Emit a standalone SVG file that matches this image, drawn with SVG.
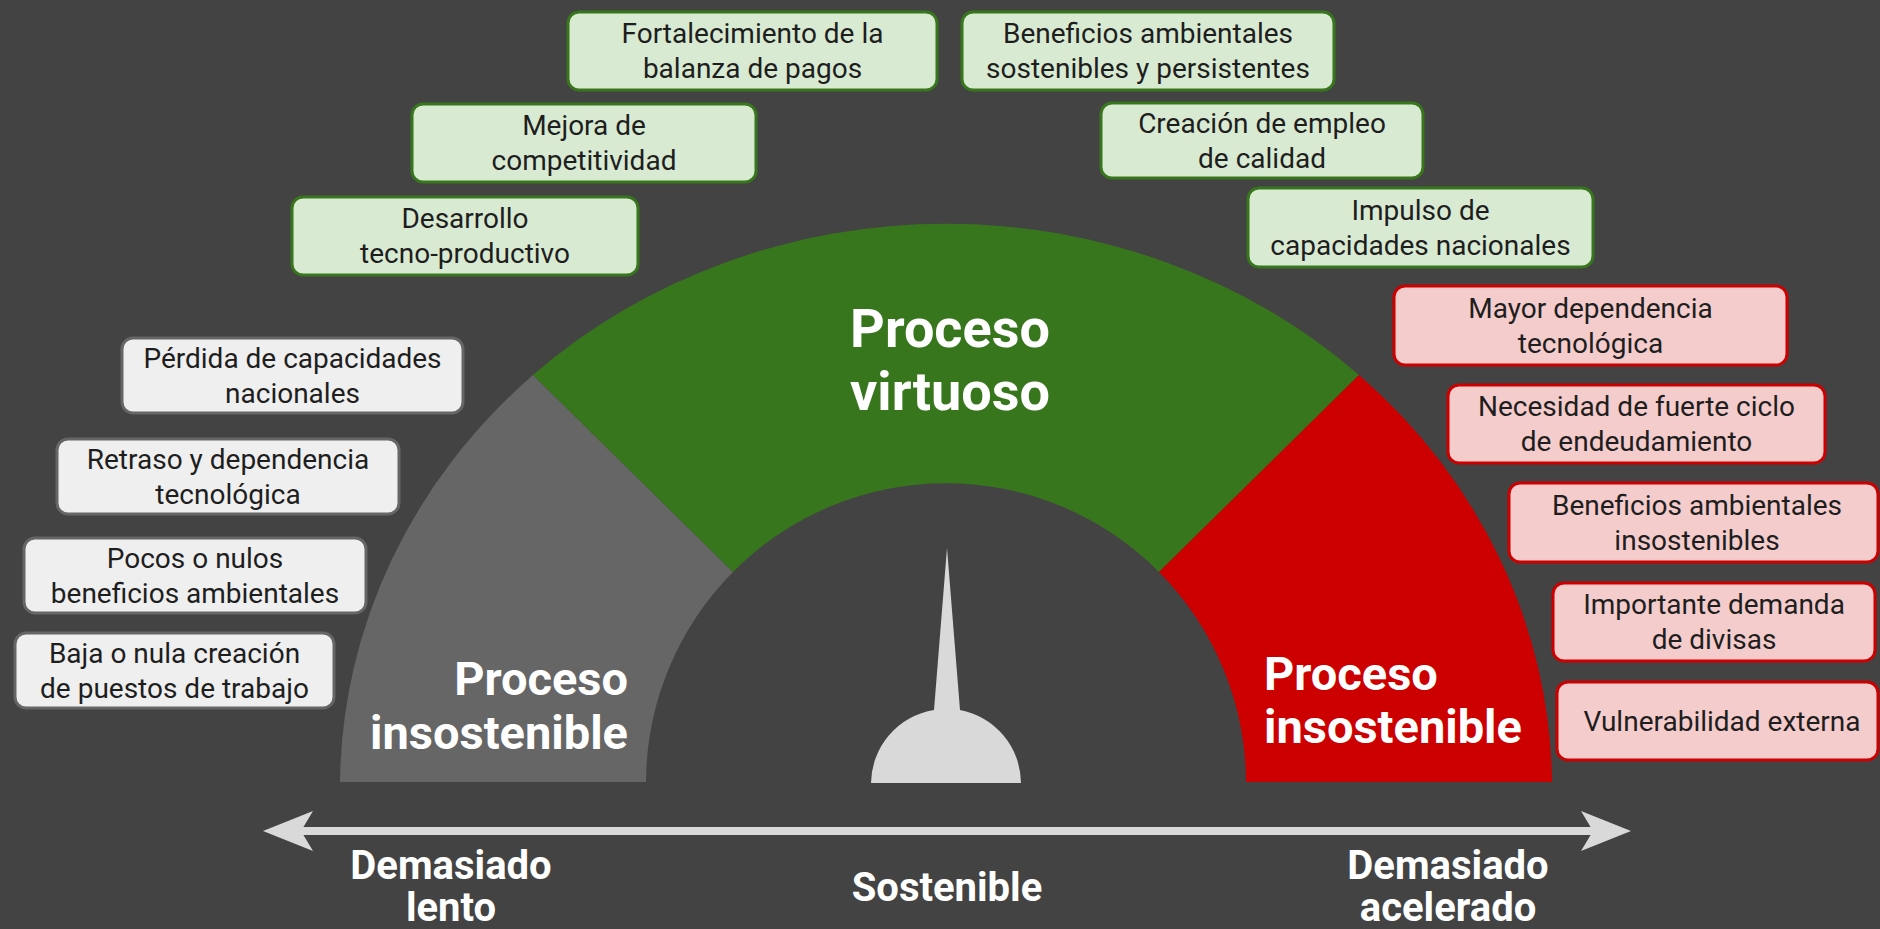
<svg xmlns="http://www.w3.org/2000/svg" width="1880" height="929" viewBox="0 0 1880 929">
<defs>
<style>
.bg{fill:#434343}
.g rect{fill:#d9ead3;stroke:#38761d;stroke-width:3}
.r rect{fill:#f4cccc;stroke:#cc0000;stroke-width:3}
.n rect{fill:#efefef;stroke:#666666;stroke-width:3}
.bt{font-family:Roboto,"Liberation Sans",sans-serif;font-size:28px;fill:#1e1e1e;text-anchor:middle}
.big{font-family:Roboto,"Liberation Sans",sans-serif;font-weight:bold;fill:#ffffff}
.ax{font-family:Roboto,"Liberation Sans",sans-serif;font-weight:bold;font-size:40px;fill:#ffffff;text-anchor:middle}
</style>
<marker id="head" viewBox="0 0 50 40" refX="12" refY="20" markerWidth="50" markerHeight="40" markerUnits="userSpaceOnUse" orient="auto-start-reverse">
<path d="M0,0 L50,20 L0,40 L12,20 Z" fill="#d9d9d9"/>
</marker>
</defs>
<rect class="bg" x="0" y="0" width="1880" height="929"/>

<g id="gauge">
<path id="sector-slow" d="M340,782 A606 564 0 0 1 533,375 L733,572 A300 300 0 0 0 646,782 Z" fill="#666666"/>
<path id="sector-virtuous" d="M533,375 A606 564 0 0 1 1359,375 L1159,572 A300 300 0 0 0 733,572 Z" fill="#38761d"/>
<path id="sector-fast" d="M1359,375 A606 564 0 0 1 1552,782 L1246,782 A300 300 0 0 0 1159,572 Z" fill="#cc0000"/>
<path id="needle" d="M871,783 A75 75 0 0 1 934,710 L947,548 L960,710 A75 75 0 0 1 1021,783 Z" fill="#d9d9d9"/>
<text class="big" font-size="54" text-anchor="middle"><tspan x="950" y="347">Proceso</tspan><tspan x="950" y="410">virtuoso</tspan></text>
<text class="big" font-size="47" text-anchor="end"><tspan x="628" y="695">Proceso</tspan><tspan x="628" y="749">insostenible</tspan></text>
<text class="big" font-size="47" text-anchor="start"><tspan x="1264" y="690">Proceso</tspan><tspan x="1264" y="743">insostenible</tspan></text>
</g>

<g id="connectors">
<line id="axis-arrow" x1="301" y1="831" x2="1593" y2="831" stroke="#d9d9d9" stroke-width="8" marker-start="url(#head)" marker-end="url(#head)"/>
</g>

<g id="axis-labels">
<text class="ax"><tspan x="451" y="879">Demasiado</tspan><tspan x="451" y="921">lento</tspan></text>
<text class="ax" x="947" y="901">Sostenible</text>
<text class="ax"><tspan x="1448" y="879">Demasiado</tspan><tspan x="1448" y="921">acelerado</tspan></text>
</g>

<g id="n-fortalecimiento" class="g"><rect x="568" y="12" width="369" height="78" rx="11"/><text class="bt"><tspan x="752.5" y="43">Fortalecimiento de la</tspan><tspan x="752.5" y="78">balanza de pagos</tspan></text></g>
<g id="n-beneficios-sostenibles" class="g"><rect x="962" y="12" width="372" height="78" rx="11"/><text class="bt"><tspan x="1148" y="43">Beneficios ambientales</tspan><tspan x="1148" y="78">sostenibles y persistentes</tspan></text></g>
<g id="n-mejora" class="g"><rect x="412" y="104" width="344" height="78" rx="11"/><text class="bt"><tspan x="584" y="135">Mejora de</tspan><tspan x="584" y="170">competitividad</tspan></text></g>
<g id="n-creacion" class="g"><rect x="1101" y="103" width="322" height="75" rx="11"/><text class="bt"><tspan x="1262" y="132.5">Creación de empleo</tspan><tspan x="1262" y="167.5">de calidad</tspan></text></g>
<g id="n-desarrollo" class="g"><rect x="292" y="197" width="346" height="78" rx="11"/><text class="bt"><tspan x="465" y="228">Desarrollo</tspan><tspan x="465" y="263">tecno-productivo</tspan></text></g>
<g id="n-impulso" class="g"><rect x="1248" y="188" width="345" height="79" rx="11"/><text class="bt"><tspan x="1420.5" y="219.5">Impulso de</tspan><tspan x="1420.5" y="254.5">capacidades nacionales</tspan></text></g>

<g id="n-perdida" class="n"><rect x="122" y="338" width="341" height="75" rx="11"/><text class="bt"><tspan x="292.5" y="367.5">Pérdida de capacidades</tspan><tspan x="292.5" y="402.5">nacionales</tspan></text></g>
<g id="n-retraso" class="n"><rect x="57" y="439" width="342" height="75" rx="11"/><text class="bt"><tspan x="228" y="468.5">Retraso y dependencia</tspan><tspan x="228" y="503.5">tecnológica</tspan></text></g>
<g id="n-pocos" class="n"><rect x="24" y="538" width="342" height="75" rx="11"/><text class="bt"><tspan x="195" y="567.5">Pocos o nulos</tspan><tspan x="195" y="602.5">beneficios ambientales</tspan></text></g>
<g id="n-baja" class="n"><rect x="15" y="633" width="319" height="75" rx="11"/><text class="bt"><tspan x="174.5" y="662.5">Baja o nula creación</tspan><tspan x="174.5" y="697.5">de puestos de trabajo</tspan></text></g>

<g id="n-mayor" class="r"><rect x="1394" y="286" width="393" height="79" rx="11"/><text class="bt"><tspan x="1590.5" y="317.5">Mayor dependencia</tspan><tspan x="1590.5" y="352.5">tecnológica</tspan></text></g>
<g id="n-necesidad" class="r"><rect x="1448" y="385" width="377" height="78" rx="11"/><text class="bt"><tspan x="1636.5" y="416">Necesidad de fuerte ciclo</tspan><tspan x="1636.5" y="451">de endeudamiento</tspan></text></g>
<g id="n-beneficios-insostenibles" class="r"><rect x="1509" y="483" width="369" height="79" rx="11"/><text class="bt"><tspan x="1697" y="514.5">Beneficios ambientales</tspan><tspan x="1697" y="549.5">insostenibles</tspan></text></g>
<g id="n-importante" class="r"><rect x="1553" y="583" width="322" height="78" rx="11"/><text class="bt"><tspan x="1714" y="614">Importante demanda</tspan><tspan x="1714" y="649">de divisas</tspan></text></g>
<g id="n-vulnerabilidad" class="r"><rect x="1557" y="682" width="321" height="78" rx="11"/><text class="bt" x="1722" y="731">Vulnerabilidad externa</text></g>
</svg>
